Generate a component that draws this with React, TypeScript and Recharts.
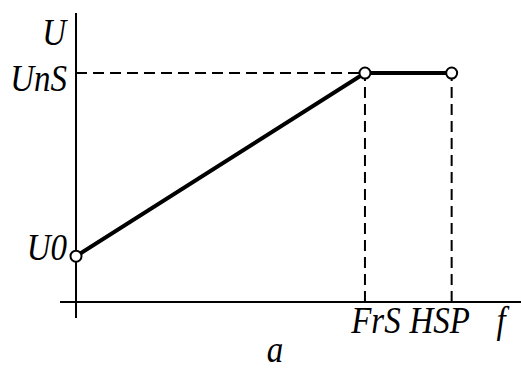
import React from "react";
import { LineChart, Line, XAxis, YAxis, ReferenceLine } from "recharts";

// V/f characteristic: boost voltage U0 at zero frequency, rising to UnS at FrS,
// then held flat up to the high-speed limit HSP.
const freqPoints = [0, 50, 65];
const voltPoints = [20, 100, 100];

const freqTicks = [50, 65];
const freqTickLabels = ["FrS", "HSP"];
const voltTicks = [20, 100];
const voltTickLabels = ["U0", "UnS"];

const axisNames = { x: "f", y: "U", caption: "a" };

const data = freqPoints.map((f, i) => ({ f, u: voltPoints[i] }));

const WIDTH = 521;
const HEIGHT = 370;
const FONT = "'Liberation Serif', 'Times New Roman', serif";
const FONT_SIZE = 33;

// nudges for the italic labels relative to their tick
const xTickShift: Record<string, number> = { FrS: 11, HSP: -12 };
const yTickShift: Record<string, number> = { U0: 4, UnS: 18 };

// italic serif label, drawn a little taller than wide
function Txt({ x, y, anchor = "middle", children }: { x: number; y: number; anchor?: string; children: React.ReactNode }) {
  return (
    <text
      transform={`translate(${x},${y}) scale(1,1.12)`}
      textAnchor={anchor}
      fontFamily={FONT}
      fontSize={FONT_SIZE}
      fontStyle="italic"
      fill="#000"
    >
      {children}
    </text>
  );
}

function XTick(props: any) {
  const { x, payload } = props;
  const label = freqTickLabels[freqTicks.indexOf(payload.value)];
  return (
    <Txt x={x + (xTickShift[label] ?? 0)} y={333}>
      {label}
    </Txt>
  );
}

function YTick(props: any) {
  const { y, payload } = props;
  const label = voltTickLabels[voltTicks.indexOf(payload.value)];
  return (
    <Txt x={67} y={y + (yTickShift[label] ?? 0)} anchor="end">
      {label}
    </Txt>
  );
}

function HollowDot(props: any) {
  const { cx, cy, index } = props;
  return <circle key={index} cx={cx} cy={cy} r={5.5} fill="#fff" stroke="#000" strokeWidth={2} />;
}

export default function App() {
  const dash = "11 6";
  return (
    <div style={{ position: "absolute", left: 0, top: 0, width: WIDTH, height: HEIGHT, background: "#fff" }}>
      <LineChart width={WIDTH} height={HEIGHT} data={data} margin={{ top: 0, right: 0, bottom: 0, left: 0 }}>
        <XAxis
          dataKey="f"
          type="number"
          domain={[-2.77, 77]}
          allowDataOverflow
          ticks={freqTicks}
          height={30}
          axisLine={false}
          tickLine={false}
          tick={<XTick />}
          label={{
            content: () => (
              <g>
                <Txt x={501} y={333}>{axisNames.x}</Txt>
                <Txt x={275} y={362}>{axisNames.caption}</Txt>
              </g>
            ),
          }}
        />
        <YAxis
          type="number"
          domain={[-16.6, 131.9]}
          allowDataOverflow
          ticks={voltTicks}
          width={60}
          axisLine={false}
          tickLine={false}
          tick={<YTick />}
          label={{
            content: () => (
              <Txt x={66} y={45} anchor="end">
                {axisNames.y}
              </Txt>
            ),
          }}
        />

        {/* axes through the origin */}
        <ReferenceLine segment={[{ x: -2.77, y: 0 }, { x: 77, y: 0 }]} stroke="#000" strokeWidth={2} ifOverflow="visible" />
        <ReferenceLine segment={[{ x: 0, y: -7 }, { x: 0, y: 126.2 }]} stroke="#000" strokeWidth={2} ifOverflow="visible" />

        {/* projection lines */}
        <ReferenceLine segment={[{ x: 0, y: 100 }, { x: 50, y: 100 }]} stroke="#000" strokeWidth={2} strokeDasharray={dash} />
        <ReferenceLine segment={[{ x: 50, y: 0 }, { x: 50, y: 100 }]} stroke="#000" strokeWidth={2} strokeDasharray={dash} />
        <ReferenceLine segment={[{ x: 65, y: 0 }, { x: 65, y: 100 }]} stroke="#000" strokeWidth={2} strokeDasharray={dash} />

        <Line
          dataKey="u"
          type="linear"
          stroke="#000"
          strokeWidth={4}
          dot={<HollowDot />}
          activeDot={false}
          isAnimationActive={false}
        />
      </LineChart>
    </div>
  );
}
